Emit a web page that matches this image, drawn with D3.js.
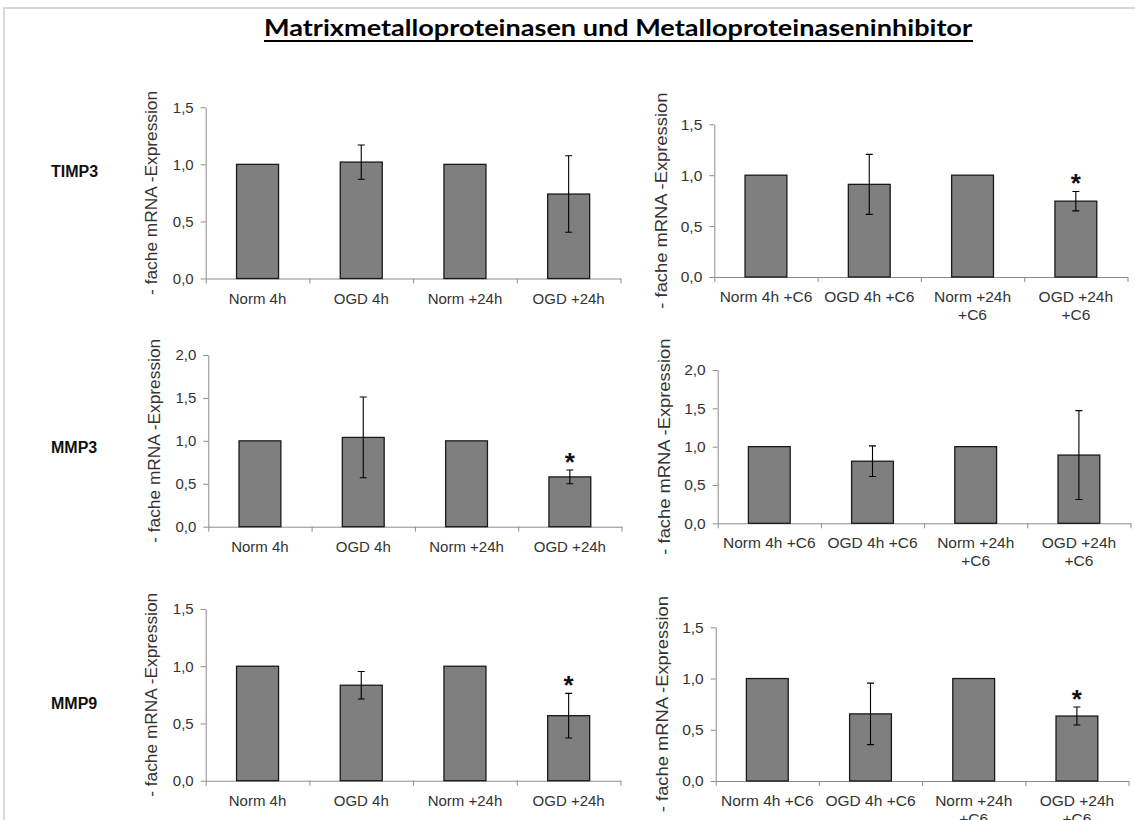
<!DOCTYPE html>
<html>
<head>
<meta charset="utf-8">
<script src="https://cdn.jsdelivr.net/npm/d3@7"></script>
<style>
  body { margin: 0; background: #ffffff; }
  svg { display: block; }
  .tick text, .cat-label { font-family: "Liberation Sans", Arial, sans-serif; fill: #333333; }
</style>
</head>
<body>
<svg id="chart" width="1135" height="820"></svg>
<script>
// ---- Data -------------------------------------------------------------
const chartTitle = "Matrixmetalloproteinasen und Metalloproteinaseninhibitor";
const yAxisTitle = "- fache mRNA -Expression";
const genes = ["TIMP3", "MMP3", "MMP9"];

const categories   = ["Norm 4h", "OGD 4h", "Norm +24h", "OGD +24h"];
const categoriesC6 = ["Norm 4h +C6", "OGD 4h +C6", "Norm +24h\n+C6", "OGD +24h\n+C6"];

const ticksTo15 = [0, 0.5, 1.0, 1.5];
const ticksTo20 = [0, 0.5, 1.0, 1.5, 2.0];

// TIMP3
const timp3Mean     = [1.00, 1.02, 1.00, 0.74];
const timp3Err      = [0, 0.15, 0, 0.335];
const timp3Sig      = [false, false, false, false];
const timp3C6Mean   = [1.00, 0.91, 1.00, 0.745];
const timp3C6Err    = [0, 0.295, 0, 0.095];
const timp3C6Sig    = [false, false, false, true];
// MMP3
const mmp3Mean      = [1.00, 1.04, 1.00, 0.58];
const mmp3Err       = [0, 0.47, 0, 0.08];
const mmp3Sig       = [false, false, false, true];
const mmp3C6Mean    = [1.00, 0.81, 1.00, 0.89];
const mmp3C6Err     = [0, 0.20, 0, 0.58];
const mmp3C6Sig     = [false, false, false, false];
// MMP9
const mmp9Mean      = [1.00, 0.834, 1.00, 0.568];
const mmp9Err       = [0, 0.12, 0, 0.195];
const mmp9Sig       = [false, false, false, true];
const mmp9C6Mean    = [1.00, 0.655, 1.00, 0.634];
const mmp9C6Err     = [0, 0.30, 0, 0.088];
const mmp9C6Sig     = [false, false, false, true];

// ---- Layout -----------------------------------------------------------
const panels = [
  { cats: categories,   mean: timp3Mean,   err: timp3Err,   sig: timp3Sig,   ticks: ticksTo15,
    x0: 205.7, band: 103.7, y0: 278.5, yTop: 107.3, font: 15, titleX: 157, titleLen: 204 },
  { cats: categoriesC6, mean: timp3C6Mean, err: timp3C6Err, sig: timp3C6Sig, ticks: ticksTo15,
    x0: 714.3, band: 103.3, y0: 277.0, yTop: 124.3, font: 15.5, titleX: 667, titleLen: 216 },
  { cats: categories,   mean: mmp3Mean,    err: mmp3Err,    sig: mmp3Sig,    ticks: ticksTo20,
    x0: 208.3, band: 103.3, y0: 526.7, yTop: 355.0, font: 15, titleX: 160, titleLen: 204 },
  { cats: categoriesC6, mean: mmp3C6Mean,  err: mmp3C6Err,  sig: mmp3C6Sig,  ticks: ticksTo20,
    x0: 717.7, band: 103.2, y0: 523.3, yTop: 370.0, font: 15.5, titleX: 670, titleLen: 216 },
  { cats: categories,   mean: mmp9Mean,    err: mmp9Err,    sig: mmp9Sig,    ticks: ticksTo15,
    x0: 205.7, band: 103.7, y0: 780.7, yTop: 609.0, font: 15, titleX: 157, titleLen: 204 },
  { cats: categoriesC6, mean: mmp9C6Mean,  err: mmp9C6Err,  sig: mmp9C6Sig,  ticks: ticksTo15,
    x0: 715.7, band: 103.2, y0: 781.0, yTop: 627.3, font: 15.5, titleX: 668, titleLen: 216 }
];
const rowLabelY = [177, 453, 709];

const svg = d3.select("#chart");
const deLocale = d3.formatLocale({ decimal: ",", thousands: ".", grouping: [3], currency: ["", " €"] });
const fmt = deLocale.format(".1f");
const axisColor = "#8c8c8c";

// page frame
svg.append("path")
  .attr("d", "M4,820V8H1135")
  .attr("fill", "none")
  .attr("stroke", "#d9d9d9")
  .attr("stroke-width", 2);

// heading
const title = svg.append("text")
  .attr("x", 618).attr("y", 36)
  .attr("text-anchor", "middle")
  .attr("font-family", "Lato, 'Open Sans', sans-serif")
  .attr("font-weight", "bold")
  .attr("font-size", 23)
  .attr("textLength", 708)
  .attr("lengthAdjust", "spacingAndGlyphs")
  .attr("fill", "#000")
  .text(chartTitle);
svg.append("line")
  .attr("x1", 264).attr("x2", 973)
  .attr("y1", 41).attr("y2", 41)
  .attr("stroke", "#000").attr("stroke-width", 2);

// gene labels
genes.forEach((g, i) => {
  svg.append("text")
    .attr("x", 51).attr("y", rowLabelY[i])
    .attr("font-family", "'Liberation Sans', Arial, sans-serif")
    .attr("font-weight", "bold")
    .attr("font-size", 16)
    .attr("fill", "#111")
    .text(g);
});

function drawPanel(p) {
  const g = svg.append("g");
  const n = p.cats.length;
  const x = d3.scaleBand()
    .domain(p.cats)
    .range([p.x0, p.x0 + p.band * n])
    .paddingInner(0.595)
    .paddingOuter(0.2975);
  const xEdge = d3.scaleLinear().domain([0, n]).range([p.x0, p.x0 + p.band * n]);
  const y = d3.scaleLinear().domain([0, d3.max(p.ticks)]).range([p.y0, p.yTop]);

  // y axis
  const ya = g.append("g")
    .attr("transform", `translate(${p.x0},0)`)
    .call(d3.axisLeft(y).tickValues(p.ticks).tickSize(5).tickSizeOuter(0).tickPadding(7).tickFormat(fmt));
  ya.selectAll("text").attr("font-size", p.font);

  // x axis: ticks at category boundaries
  const xa = g.append("g")
    .attr("transform", `translate(0,${p.y0})`)
    .call(d3.axisBottom(xEdge).tickValues(d3.range(n + 1)).tickSize(5).tickSizeOuter(0).tickFormat(""));

  g.selectAll(".domain, .tick line").attr("stroke", axisColor).attr("stroke-width", 1);

  // category labels (may wrap onto two lines)
  p.cats.forEach(c => {
    const t = g.append("text")
      .attr("class", "cat-label")
      .attr("text-anchor", "middle")
      .attr("font-size", p.font)
      .attr("x", x(c) + x.bandwidth() / 2)
      .attr("y", p.y0 + 25);
    c.split("\n").forEach((line, k) => {
      t.append("tspan")
        .attr("x", x(c) + x.bandwidth() / 2)
        .attr("dy", k === 0 ? 0 : 17.5)
        .text(line);
    });
  });

  // bars
  g.selectAll("rect.bar")
    .data(p.cats)
    .join("rect")
    .attr("class", "bar")
    .attr("x", c => x(c))
    .attr("width", x.bandwidth())
    .attr("y", (c, i) => y(p.mean[i]))
    .attr("height", (c, i) => p.y0 - y(p.mean[i]))
    .attr("fill", "#7f7f7f")
    .attr("stroke", "#1a1a1a")
    .attr("stroke-width", 1.3);

  // error bars
  const cap = 3.5;
  p.cats.forEach((c, i) => {
    const e = p.err[i];
    if (!e) return;
    const cx = x(c) + x.bandwidth() / 2;
    const yHi = y(p.mean[i] + e), yLo = y(p.mean[i] - e);
    g.append("path")
      .attr("d", `M${cx},${yHi}V${yLo}M${cx - cap},${yHi}H${cx + cap}M${cx - cap},${yLo}H${cx + cap}`)
      .attr("fill", "none")
      .attr("stroke", "#000")
      .attr("stroke-width", 1.1);
    if (p.sig[i]) {
      g.append("text")
        .attr("x", cx).attr("y", yHi + 1)
        .attr("text-anchor", "middle")
        .attr("font-family", "'Liberation Sans', Arial, sans-serif")
        .attr("font-weight", "bold")
        .attr("font-size", 26)
        .attr("fill", "#111")
        .text("*");
    }
  });

  // y axis title
  const cy = (p.y0 + p.yTop) / 2;
  g.append("text")
    .attr("transform", `translate(${p.titleX},${cy}) rotate(-90)`)
    .attr("text-anchor", "middle")
    .attr("font-family", "'Liberation Sans', Arial, sans-serif")
    .attr("font-size", 17)
    .attr("textLength", p.titleLen)
    .attr("lengthAdjust", "spacingAndGlyphs")
    .attr("fill", "#333")
    .text(yAxisTitle);
}

panels.forEach(drawPanel);
</script>
</body>
</html>
